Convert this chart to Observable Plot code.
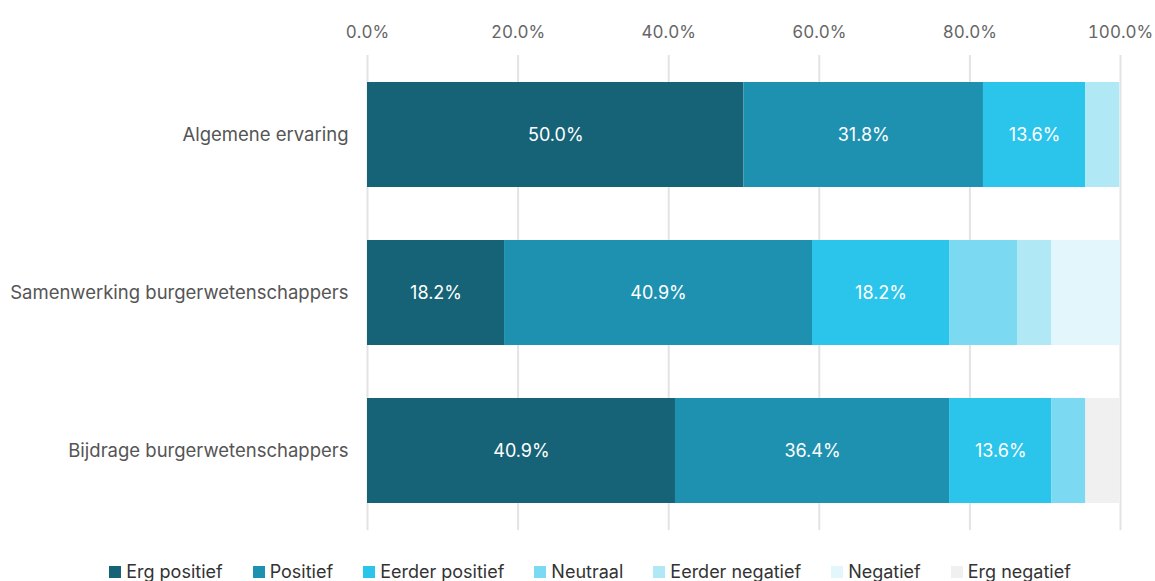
<!DOCTYPE html>
<html>
<head>
<meta charset="utf-8">
<script src="https://cdn.jsdelivr.net/npm/d3@7"></script>
<script src="https://cdn.jsdelivr.net/npm/@observablehq/plot@0.6"></script>
<style>
  html, body { margin: 0; padding: 0; background: #fff; }
  body { width: 1155px; height: 581px; overflow: hidden; font-family: Inter, "Noto Sans", sans-serif; }
  #legend { display: flex; justify-content: center; gap: 30px; font-size: 18px; line-height: 20px; color: #333; margin-top: 6px; padding-left: 25px; }
  #legend .item { display: flex; align-items: center; gap: 5px; }
  #legend .sw { width: 12px; height: 12px; display: inline-block; }
</style>
</head>
<body>
<div id="chart"></div>
<div id="legend"></div>
<script>
const questions = ["Algemene ervaring", "Samenwerking burgerwetenschappers", "Bijdrage burgerwetenschappers"];
const categories = ["Erg positief", "Positief", "Eerder positief", "Neutraal", "Eerder negatief", "Negatief", "Erg negatief"];
const colors = ["#166276", "#1f91b0", "#2bc4ea", "#7bd9f2", "#b0e8f5", "#e3f6fc", "#f0f0f0"];
// values in %, per category, in the order of questions
const ergPositief    = [50.0, 18.2, 40.9];
const positief       = [31.8, 40.9, 36.4];
const eerderPositief = [13.6, 18.2, 13.6];
const neutraal       = [0.0, 9.1, 4.5];
const eerderNegatief = [4.5, 4.5, 0.0];
const negatief       = [0.0, 9.1, 0.0];
const ergNegatief    = [0.0, 0.0, 4.5];
const xTicks = [0, 20, 40, 60, 80, 100];

const series = [ergPositief, positief, eerderPositief, neutraal, eerderNegatief, negatief, ergNegatief];
const data = [];
categories.forEach((c, ci) => questions.forEach((q, qi) => {
  data.push({question: q, category: c, value: series[ci][qi]});
}));

const chart = Plot.plot({
  width: 1155,
  height: 556,
  marginLeft: 367,
  marginRight: 35,
  marginTop: 55,
  marginBottom: 26,
  style: {fontFamily: "Inter, 'Noto Sans', sans-serif", fontSize: "17px", color: "#555"},
  x: {domain: [0, 100], axis: null},
  y: {domain: questions, paddingInner: 0.335, paddingOuter: 0.17, axis: null},
  color: {domain: categories, range: colors},
  marks: [
    Plot.ruleX(xTicks, {stroke: "#e3e3e3", strokeWidth: 2}),
    Plot.barX(data, Plot.stackX({x: "value", y: "question", fill: "category", z: "category", order: categories})),
    Plot.text(data, Plot.stackX({
      x: "value", y: "question", z: "category", order: categories,
      text: d => d.value >= 10 ? d.value.toFixed(1) + "%" : "",
      fill: "white", fontSize: 18
    })),
    Plot.axisX(xTicks, {anchor: "top", tickSize: 0, tickPadding: 18, tickFormat: d => d.toFixed(1) + "%", fill: "#666", fontSize: 17, label: null}),
    Plot.axisY({tickSize: 0, tickPadding: 19, fill: "#555", fontSize: 18.5, label: null})
  ]
});
document.getElementById("chart").appendChild(chart);

const legend = document.getElementById("legend");
categories.forEach((c, i) => {
  const it = document.createElement("span");
  it.className = "item";
  const sw = document.createElement("span");
  sw.className = "sw";
  sw.style.background = colors[i];
  it.appendChild(sw);
  it.appendChild(document.createTextNode(c));
  legend.appendChild(it);
});
</script>
</body>
</html>
